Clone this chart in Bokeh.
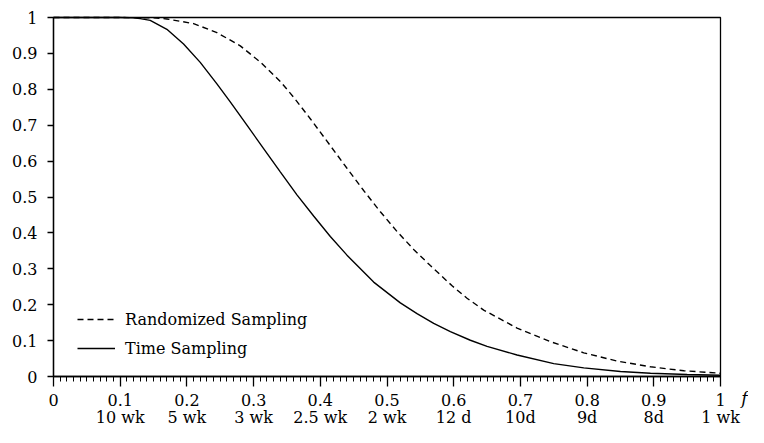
from bokeh.plotting import figure
from bokeh.models import (FixedTicker, NumeralTickFormatter, Range1d, LabelSet,
                          Label, ColumnDataSource, LinearAxis, BoxAnnotation)
from bokeh.core.properties import value
from bokeh.embed import file_html
from bokeh.resources import INLINE

# Time Sampling (solid)
f_time = [0.0, 0.05, 0.10, 0.12, 0.13, 0.145, 0.17, 0.195, 0.22, 0.245, 0.265, 0.29,
          0.315, 0.34, 0.365, 0.39, 0.415, 0.44, 0.48, 0.52, 0.545, 0.57, 0.595, 0.625,
          0.65, 0.695, 0.75, 0.795, 0.85, 0.895, 0.95, 1.0]
p_time = [1.0, 1.0, 1.0, 0.999, 0.997, 0.992, 0.967, 0.926, 0.875, 0.815, 0.765, 0.700,
          0.635, 0.570, 0.506, 0.447, 0.390, 0.338, 0.263, 0.205, 0.175, 0.148, 0.125, 0.101,
          0.084, 0.060, 0.036, 0.024, 0.014, 0.009, 0.0055, 0.0035]

# Randomized Sampling (dashed)
f_rand = [0.0, 0.10, 0.15, 0.17, 0.21, 0.245, 0.28, 0.31, 0.34, 0.36, 0.385,
          0.415, 0.44, 0.465, 0.49, 0.515, 0.54, 0.565, 0.598, 0.62, 0.645, 0.695,
          0.745, 0.795, 0.845, 0.895, 0.945, 1.0]
p_rand = [1.0, 1.0, 0.999, 0.996, 0.983, 0.958, 0.921, 0.876, 0.822, 0.778, 0.718,
          0.643, 0.580, 0.518, 0.459, 0.404, 0.354, 0.309, 0.252, 0.218, 0.185, 0.135,
          0.097, 0.066, 0.043, 0.027, 0.016, 0.009]

x_ticks = [0, 0.1, 0.2, 0.3, 0.4, 0.5, 0.6, 0.7, 0.8, 0.9, 1]
y_ticks = [0, 0.1, 0.2, 0.3, 0.4, 0.5, 0.6, 0.7, 0.8, 0.9, 1]
week_ticks = [0.1, 0.2, 0.3, 0.4, 0.5, 0.6, 0.7, 0.8, 0.9, 1]
week_labels = ["10 wk", "5 wk", "3 wk", "2.5 wk", "2 wk", "12 d", "10d", "9d", "8d", "1 wk"]

FONT = "DejaVu Serif"
FS = "16px"

W, H = 748, 427
LEFT, RIGHT, TOP, BOTTOM = 53, 720, 17, 376   # pixel positions of x=0, x=1, y=1, y=0
sx = RIGHT - LEFT
sy = BOTTOM - TOP

p = figure(width=W, height=H, output_backend="svg", toolbar_location=None,
           x_range=Range1d(-LEFT / sx, (W - LEFT) / sx),
           y_range=Range1d(-(H - BOTTOM) / sy, 1 + TOP / sy),
           x_axis_location=None, y_axis_location=None, min_border=0)
p.background_fill_color = "white"
p.border_fill_color = "white"
p.outline_line_color = None
p.xgrid.visible = False
p.ygrid.visible = False

# frame box
p.add_layout(BoxAnnotation(left=0, right=1, bottom=0, top=1, fill_alpha=0,
                           line_color="black", line_alpha=1, line_width=1.3,
                           level="underlay"))

minor = [i / 100 for i in range(101)]
xa = LinearAxis(fixed_location=0, bounds=(0, 1),
                ticker=FixedTicker(ticks=x_ticks, minor_ticks=minor),
                formatter=NumeralTickFormatter(format="0.[0]"))
xa.major_tick_out = 10
xa.major_tick_in = 0
xa.minor_tick_out = 5
xa.minor_tick_in = 0
xa.axis_line_width = 1.3
xa.major_tick_line_width = 1.3
xa.minor_tick_line_width = 1
xa.major_label_standoff = 7
xa.major_label_text_font = FONT
xa.major_label_text_font_size = FS
xa.major_label_text_color = "black"
p.add_layout(xa, "below")

ya = LinearAxis(fixed_location=0, bounds=(0, 1),
                ticker=FixedTicker(ticks=y_ticks, minor_ticks=[]),
                formatter=NumeralTickFormatter(format="0.[0]"))
ya.major_tick_out = 6
ya.major_tick_in = 0
ya.minor_tick_out = 0
ya.minor_tick_in = 0
ya.axis_line_width = 1.3
ya.major_tick_line_width = 1.3
ya.major_label_standoff = 10
ya.major_label_text_font = FONT
ya.major_label_text_font_size = FS
ya.major_label_text_color = "black"
p.add_layout(ya, "left")

p.line(f_rand, p_rand, line_dash="6 4", line_width=1.4, color="black",
       legend_label="Randomized Sampling")
p.line(f_time, p_time, line_width=1.4, color="black",
       legend_label="Time Sampling")

lg = p.legend[0]
lg.location = (77, 66)
lg.border_line_color = None
lg.background_fill_alpha = 0
lg.label_text_font = FONT
lg.label_text_font_size = FS
lg.label_text_color = "black"
lg.glyph_width = 38
lg.label_standoff = 10
lg.spacing = 3
lg.label_height = 26
lg.glyph_height = 26
lg.padding = 10
lg.margin = 0

src = ColumnDataSource(dict(x=week_ticks, y=[0] * len(week_ticks), text=week_labels))
p.add_layout(LabelSet(x="x", y="y", text="text", source=src, y_offset=-41,
                      text_align="center", text_baseline="middle",
                      text_font=value(FONT), text_font_size=FS, text_color="black"))

p.add_layout(Label(x=1, y=0, x_offset=24, y_offset=-21, text="f",
                   text_font=FONT, text_font_style="italic", text_font_size="17px",
                   text_align="center", text_baseline="middle", text_color="black"))

open("out.html", "w").write(file_html(p, INLINE))
